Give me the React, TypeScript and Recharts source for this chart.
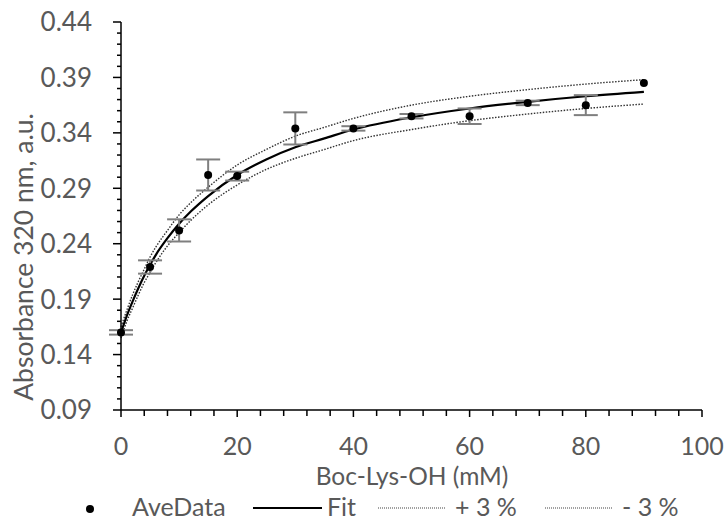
import React from "react";
import {
  ComposedChart,
  Line,
  Scatter,
  ErrorBar,
  XAxis,
  YAxis,
} from "recharts";

// measured averages with their error (±)
const doseX = [0, 5, 10, 15, 20, 30, 40, 50, 60, 70, 80, 90];
const aveData = [0.16, 0.219, 0.252, 0.302, 0.301, 0.344, 0.344, 0.355, 0.355, 0.367, 0.365, 0.385];
const aveErr = [0.002, 0.006, 0.01, 0.014, 0.004, 0.0145, 0.002, 0.002, 0.007, 0.002, 0.009, 0];

// fitted curve and its ±3 % band
const fitX = [0, 1, 2, 3, 4, 5, 6, 8, 10, 12, 15, 20, 25, 30, 35, 40, 50, 60, 70, 80, 90];
const fitY = [0.16, 0.175, 0.188, 0.2, 0.211, 0.221, 0.23, 0.245, 0.258, 0.269, 0.283, 0.302, 0.316, 0.327, 0.335, 0.343, 0.354, 0.362, 0.368, 0.373, 0.377];
const plusY = [0.165, 0.18, 0.194, 0.206, 0.217, 0.228, 0.237, 0.252, 0.266, 0.277, 0.291, 0.311, 0.325, 0.337, 0.345, 0.353, 0.365, 0.373, 0.379, 0.384, 0.388];
const minusY = [0.155, 0.17, 0.182, 0.194, 0.205, 0.214, 0.223, 0.238, 0.25, 0.261, 0.275, 0.293, 0.307, 0.317, 0.325, 0.333, 0.343, 0.351, 0.357, 0.362, 0.366];

const yTicks = [
  0.09, 0.1, 0.11, 0.12, 0.13, 0.14, 0.15, 0.16, 0.17, 0.18, 0.19, 0.2,
  0.21, 0.22, 0.23, 0.24, 0.25, 0.26, 0.27, 0.28, 0.29, 0.3, 0.31, 0.32,
  0.33, 0.34, 0.35, 0.36, 0.37, 0.38, 0.39, 0.4, 0.41, 0.42, 0.43, 0.44,
];
const xTicks = [0, 4, 8, 12, 16, 20, 24, 28, 32, 36, 40, 44, 48, 52, 56, 60, 64, 68, 72, 76, 80, 84, 88, 92, 96, 100];

const FONT = "Lato, 'Open Sans', sans-serif";
const GRAY = "#595959";

const points = doseX.map((x, i) => ({ x, y: aveData[i], err: aveErr[i] }));
const fitData = fitX.map((x, i) => ({ x, fit: fitY[i], plus: plusY[i], minus: minusY[i] }));

const YTick = (props: any) => {
  const { x, y, payload } = props;
  const v: number = payload.value;
  const major = Math.round(v * 100) % 5 === 4;
  return (
    <g>
      <line x1={x - (major ? 8 : 4)} x2={x} y1={y} y2={y} stroke="#000" strokeWidth={1.5} />
      {major && (
        <text x={x - 29} y={y} dy="0.36em" textAnchor="end" fill={GRAY} fontSize={26} fontFamily={FONT}>
          {v.toFixed(2)}
        </text>
      )}
    </g>
  );
};

const XTick = (props: any) => {
  const { x, y, payload } = props;
  const v: number = payload.value;
  const major = v % 20 === 0;
  return (
    <g>
      <line x1={x} x2={x} y1={y} y2={y + (major ? 7 : 6)} stroke="#000" strokeWidth={1.5} />
      {major && (
        <text x={x} y={y + 45} textAnchor="middle" fill={GRAY} fontSize={25} fontFamily={FONT}>
          {v}
        </text>
      )}
    </g>
  );
};

const Dot = (p: any) => <circle cx={p.cx} cy={p.cy} r={4} fill="#000" />;

function LegendRow() {
  const txt = { fill: GRAY, fontSize: 25, fontFamily: FONT };
  return (
    <svg width={727} height={522} style={{ position: "absolute", left: 0, top: 0, pointerEvents: "none" }}>
      <circle cx={90} cy={509} r={4} fill="#000" />
      <text x={132} y={516} {...txt}>AveData</text>
      <line x1={253} x2={322} y1={508} y2={508} stroke="#000" strokeWidth={2} />
      <text x={327} y={516} {...txt}>Fit</text>
      <line x1={378} x2={445} y1={508} y2={508} stroke="#444" strokeWidth={1.2} strokeDasharray="1 1" />
      <text x={455} y={516} {...txt}>+ 3 %</text>
      <line x1={545} x2={612} y1={508} y2={508} stroke="#444" strokeWidth={1.2} strokeDasharray="1 1" />
      <text x={622} y={516} {...txt}>- 3 %</text>
    </svg>
  );
}

export default function App() {
  return (
    <div style={{ position: "absolute", left: 0, top: 0, width: 727, height: 522, background: "#fff" }}>
      <ComposedChart width={727} height={522} margin={{ top: 22, right: 25, bottom: 0, left: 0 }}>
        <XAxis
          type="number"
          dataKey="x"
          domain={[0, 100]}
          ticks={xTicks}
          interval={0}
          height={112}
          tickSize={0}
          tickMargin={0}
          tickLine={false}
          axisLine={{ stroke: "#000", strokeWidth: 1.5 }}
          tick={<XTick />}
          allowDuplicatedCategory={false}
          label={{
            content: () => (
              <text x={412} y={485} textAnchor="middle" fill={GRAY} fontSize={24.5} fontFamily={FONT}>
                Boc-Lys-OH (mM)
              </text>
            ),
          }}
        />
        <YAxis
          type="number"
          domain={[0.09, 0.44]}
          ticks={yTicks}
          interval={0}
          width={121}
          tickSize={0}
          tickMargin={0}
          tickLine={false}
          axisLine={{ stroke: "#000", strokeWidth: 1.5 }}
          tick={<YTick />}
          label={{
            content: () => (
              <text
                x={23}
                y={257}
                transform="rotate(-90 23 257)"
                textAnchor="middle"
                dominantBaseline="central"
                fill={GRAY}
                fontSize={26.5}
                fontFamily={FONT}
              >
                Absorbance 320 nm, a.u.
              </text>
            ),
          }}
        />
        <Line
          data={fitData}
          dataKey="plus"
          type="monotone"
          stroke="#333"
          strokeWidth={1.4}
          strokeDasharray="1.5 1.5"
          dot={false}
          isAnimationActive={false}
        />
        <Line
          data={fitData}
          dataKey="minus"
          type="monotone"
          stroke="#333"
          strokeWidth={1.4}
          strokeDasharray="1.5 1.5"
          dot={false}
          isAnimationActive={false}
        />
        <Line
          data={fitData}
          dataKey="fit"
          type="monotone"
          stroke="#000"
          strokeWidth={2.2}
          dot={false}
          isAnimationActive={false}
        />
        <Scatter data={points} dataKey="y" shape={<Dot />} isAnimationActive={false}>
          <ErrorBar dataKey="err" direction="y" width={12} stroke="#7f7f7f" strokeWidth={2} />
        </Scatter>
      </ComposedChart>
      <LegendRow />
    </div>
  );
}
